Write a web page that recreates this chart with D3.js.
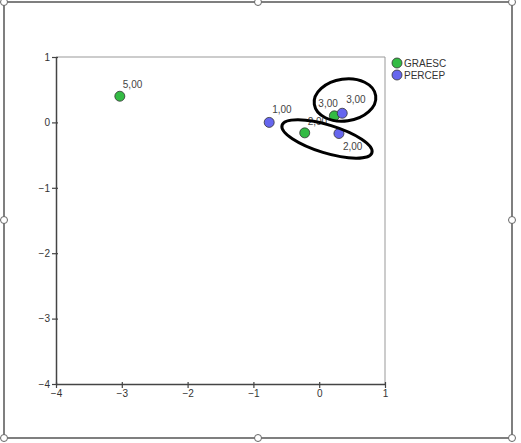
<!DOCTYPE html>
<html><head><meta charset="utf-8">
<script src="https://cdn.jsdelivr.net/npm/d3@7"></script>
<style>body{margin:0;background:#fff}svg{display:block}</style>
</head><body><svg id="c" width="521" height="443"></svg>
<script>
const seriesNames = ["GRAESC", "PERCEP"];
const seriesColors = ["#33bb44", "#6666ee"];
const graescX = [-3.03, -0.22, 0.23];
const graescY = [0.40, -0.16, 0.10];
const graescLabels = ["5,00", "2,00", "3,00"];
const percepX = [-0.76, 0.30, 0.35];
const percepY = [0.00, -0.17, 0.14];
const percepLabels = ["1,00", "2,00", "3,00"];
const xTicks = [-4, -3, -2, -1, 0, 1];
const yTicks = [1, 0, -1, -2, -3, -4];

const svg = d3.select("#c");
const x = d3.scaleLinear().domain([-4, 1]).range([56, 385]);
const y = d3.scaleLinear().domain([-4, 1]).range([384, 57]);

// label offsets (layout only)
const labelOffsets = [
  [[3, -8], [3, -8], [-16, -9]],
  [[3, -9], [4, 16], [4, -10]]
];

svg.append("rect").attr("x", 4).attr("y", 2).attr("width", 508).attr("height", 436)
  .attr("fill", "none").attr("stroke", "#555").attr("stroke-width", 1.5);

svg.append("path").attr("d", `M${x(-4)},${y(1)}H${x(1)}V${y(-4)}`)
  .attr("fill", "none").attr("stroke", "#999").attr("stroke-width", 1);

const font = "Arial, 'Liberation Sans', sans-serif";
const xAxis = svg.append("g").attr("transform", `translate(0,${y(-4)})`)
  .call(d3.axisBottom(x).tickValues(xTicks).tickSize(5).tickSizeOuter(0).tickFormat(d3.format("d")));
const yAxis = svg.append("g").attr("transform", `translate(${x(-4)},0)`)
  .call(d3.axisLeft(y).tickValues(yTicks).tickSize(5).tickSizeOuter(0).tickFormat(d3.format("d")));
xAxis.selectAll(".tick line").attr("y1", -2).attr("y2", 4);
yAxis.selectAll(".tick line").attr("x1", 2).attr("x2", -4);
[xAxis, yAxis].forEach(a => {
  a.select(".domain").attr("stroke", "#444").attr("stroke-width", 1.5);
  a.selectAll(".tick line").attr("stroke", "#444").attr("stroke-width", 1.2);
  a.selectAll("text").attr("font-family", font).attr("font-size", 10).attr("fill", "#333");
});
xAxis.selectAll("text").attr("y", 6);
yAxis.selectAll("text").attr("x", -6);

const series = [
  {xs: graescX, ys: graescY, labels: graescLabels, color: seriesColors[0]},
  {xs: percepX, ys: percepY, labels: percepLabels, color: seriesColors[1]}
];
series.forEach((s, si) => {
  const data = s.xs.map((v, i) => ({x: v, y: s.ys[i], label: s.labels[i], o: labelOffsets[si][i]}));
  svg.append("g").selectAll("text").data(data).join("text")
    .attr("x", d => x(d.x) + d.o[0]).attr("y", d => y(d.y) + d.o[1])
    .attr("font-family", font).attr("font-size", 10).attr("fill", "#444").text(d => d.label);
});
series.forEach(s => {
  const data = s.xs.map((v, i) => ({x: v, y: s.ys[i]}));
  svg.append("g").selectAll("circle").data(data).join("circle")
    .attr("cx", d => x(d.x)).attr("cy", d => y(d.y)).attr("r", 5)
    .attr("fill", s.color).attr("stroke", "#333").attr("stroke-width", 0.8);
});

svg.append("ellipse").attr("cx", 345).attr("cy", 100).attr("rx", 31).attr("ry", 21)
  .attr("transform", "rotate(-8,345,100)")
  .attr("fill", "none").attr("stroke", "#000").attr("stroke-width", 3);
svg.append("ellipse").attr("cx", 327).attr("cy", 139).attr("rx", 47).attr("ry", 14)
  .attr("transform", "rotate(17,327,139)")
  .attr("fill", "none").attr("stroke", "#000").attr("stroke-width", 3);

const leg = svg.append("g");
seriesNames.forEach((n, i) => {
  leg.append("circle").attr("cx", 397).attr("cy", 63 + i * 12).attr("r", 5)
    .attr("fill", seriesColors[i]).attr("stroke", "#333").attr("stroke-width", 0.8);
  leg.append("text").attr("x", 404).attr("y", 67 + i * 12)
    .attr("font-family", font).attr("font-size", 10).attr("fill", "#333").text(n);
});

const hx = [4, 258, 512], hy = [2, 220, 438];
hx.forEach(a => hy.forEach(b => {
  if (a === 258 && b === 220) return;
  svg.append("circle").attr("cx", a).attr("cy", b).attr("r", 3.5)
    .attr("fill", "#fff").attr("stroke", "#666").attr("stroke-width", 1);
}));
</script></body></html>
